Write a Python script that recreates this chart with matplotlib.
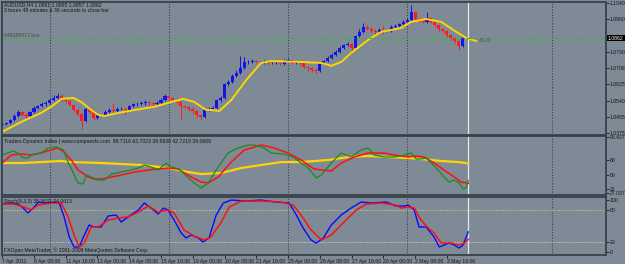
import matplotlib.pyplot as plt

# ---- price data (H4 AUDUSD, bars from 7 Apr 2011 00:00) ----
closes = [1.0421, 1.0426, 1.0441, 1.0462, 1.0482, 1.0467, 1.0462, 1.0482, 1.0502, 1.0513,
          1.0523, 1.0528, 1.0543, 1.0554, 1.0564, 1.0543, 1.0538, 1.0518, 1.0492, 1.0472,
          1.0436, 1.0497, 1.0482, 1.0451, 1.0467, 1.0467, 1.0482, 1.0492, 1.0487, 1.0497,
          1.0497, 1.0492, 1.0513, 1.0523, 1.0523, 1.0528, 1.0533, 1.0528, 1.0523, 1.0528,
          1.0543, 1.0564, 1.0554, 1.0543, 1.0533, 1.0513, 1.0508, 1.0497, 1.0487, 1.0467,
          1.0456, 1.0492, 1.0497, 1.0502, 1.0543, 1.0554, 1.0625, 1.0635, 1.0666, 1.0682,
          1.0707, 1.0738, 1.0738, 1.0743, 1.0738, 1.0738, 1.0738, 1.0733, 1.0733, 1.0733,
          1.0728, 1.0743, 1.0748, 1.0733, 1.0738, 1.0733, 1.0712, 1.0707, 1.0697, 1.0692,
          1.0733, 1.0743, 1.0758, 1.0774, 1.0789, 1.0810, 1.0825, 1.0830, 1.0810, 1.0871,
          1.0892, 1.0917, 1.0907, 1.0897, 1.0892, 1.0902, 1.0900, 1.0897, 1.0917, 1.0922,
          1.0932, 1.0943, 1.0953, 1.0994, 1.0958, 1.0948, 1.0943, 1.0963, 1.0943, 1.0927,
          1.0907, 1.0897, 1.0876, 1.0861, 1.0845, 1.0822, 1.0861, 1.0862]
highs = [1.0428, 1.0433, 1.0448, 1.0470, 1.0490, 1.0488, 1.0475, 1.0488, 1.0510, 1.0520,
         1.0532, 1.0538, 1.0552, 1.0568, 1.0580, 1.0575, 1.0560, 1.0545, 1.0522, 1.0500,
         1.0478, 1.0505, 1.0503, 1.0490, 1.0475, 1.0474, 1.0490, 1.0500, 1.0530, 1.0505,
         1.0505, 1.0502, 1.0520, 1.0530, 1.0532, 1.0540, 1.0545, 1.0540, 1.0535, 1.0538,
         1.0555, 1.0575, 1.0570, 1.0560, 1.0552, 1.0540, 1.0520, 1.0512, 1.0505, 1.0492,
         1.0472, 1.0498, 1.0505, 1.0510, 1.0550, 1.0565, 1.0632, 1.0645, 1.0675, 1.0695,
         1.0770, 1.0765, 1.0750, 1.0752, 1.0748, 1.0745, 1.0746, 1.0744, 1.0740, 1.0742,
         1.0738, 1.0752, 1.0758, 1.0752, 1.0745, 1.0742, 1.0738, 1.0718, 1.0712, 1.0705,
         1.0740, 1.0750, 1.0766, 1.0782, 1.0798, 1.0818, 1.0832, 1.0838, 1.0836, 1.0878,
         1.0905, 1.0935, 1.0928, 1.0915, 1.0905, 1.0910, 1.0922, 1.0906, 1.0925, 1.0930,
         1.0940, 1.0952, 1.0965, 1.1030, 1.0998, 1.0965, 1.0955, 1.0995, 1.0968, 1.0948,
         1.0932, 1.0912, 1.0902, 1.0882, 1.0866, 1.0850, 1.0866, 1.0865]
lows = [1.0410, 1.0415, 1.0420, 1.0436, 1.0455, 1.0460, 1.0440, 1.0455, 1.0476, 1.0495,
        1.0505, 1.0515, 1.0522, 1.0538, 1.0548, 1.0536, 1.0530, 1.0510, 1.0485, 1.0462,
        1.0395, 1.0430, 1.0475, 1.0440, 1.0445, 1.0460, 1.0460, 1.0476, 1.0480, 1.0482,
        1.0490, 1.0465, 1.0488, 1.0505, 1.0515, 1.0518, 1.0520, 1.0520, 1.0515, 1.0518,
        1.0522, 1.0538, 1.0548, 1.0538, 1.0525, 1.0445, 1.0500, 1.0488, 1.0478, 1.0455,
        1.0445, 1.0450, 1.0485, 1.0490, 1.0498, 1.0535, 1.0550, 1.0615, 1.0628, 1.0660,
        1.0675, 1.0700, 1.0730, 1.0735, 1.0732, 1.0731, 1.0730, 1.0726, 1.0725, 1.0726,
        1.0720, 1.0722, 1.0738, 1.0726, 1.0728, 1.0720, 1.0705, 1.0690, 1.0688, 1.0680,
        1.0686, 1.0726, 1.0738, 1.0752, 1.0768, 1.0782, 1.0805, 1.0818, 1.0795, 1.0805,
        1.0865, 1.0886, 1.0900, 1.0890, 1.0870, 1.0885, 1.0880, 1.0890, 1.0890, 1.0910,
        1.0915, 1.0925, 1.0938, 1.0948, 1.0950, 1.0942, 1.0935, 1.0938, 1.0936, 1.0918,
        1.0895, 1.0885, 1.0865, 1.0850, 1.0835, 1.0800, 1.0815, 1.0857]
first_open = 1.0415

# moving average on the price panel (bar, price)
ma_bar = [0, 4.8, 9.8, 12.3, 14.9, 17.9, 19.9, 22.4, 24.2, 25.7, 29.2, 33.3, 38.3, 42.6,
          45.6, 48.4, 51.4, 52.6, 54.7, 57.7, 61.5, 65.2, 67.8, 75.3, 80.4, 82.9, 85.4,
          87.9, 92.2, 95.5, 100.5, 103, 106.8, 110.6, 114.4, 116.9, 119.4]
ma_val = [1.0380, 1.0431, 1.0477, 1.0508, 1.0549, 1.0554, 1.0533, 1.0492, 1.0467, 1.0461,
          1.0477, 1.0492, 1.0508, 1.0533, 1.0549, 1.0533, 1.0492, 1.0492, 1.0487, 1.0543,
          1.0646, 1.0733, 1.0743, 1.0738, 1.0733, 1.0718, 1.0738, 1.0784, 1.0851, 1.0892,
          1.0912, 1.0943, 1.0958, 1.0943, 1.0892, 1.0861, 1.0845]

# Traders Dynamic Index
tdi_green_bar = [0, 2.8, 4, 5.3, 6.5, 7.8, 9.8, 11.6, 13.6, 15.4, 16.6, 17.9, 19.1, 20.4,
                 21.2, 22.4, 24.2, 25.7, 27.5, 30, 32.5, 34.3, 35.8, 37.5, 39.3, 41.3, 42.6,
                 44.6, 46.9, 48.4, 50.1, 51.9, 54.4, 56.9, 59.4, 62, 63.5, 66, 67.8, 71,
                 73.3, 75.3, 77.1, 79.1, 80.4, 82.9, 85.4, 87.9, 90.4, 92.2, 93.7, 96.2,
                 98.7, 101.3, 103, 104.3, 105.5, 106.8, 108.1, 109.8, 111.3, 112.6, 113.9,
                 115.1, 116.1, 116.9, 117.4]
tdi_green = [74.2, 79.2, 76.7, 70.5, 70.5, 75.4, 76.7, 82.9, 84.1, 80.4, 65.5, 51.9, 39.5,
             38.2, 49.4, 46.9, 43.2, 43.2, 50.6, 53.1, 55.6, 58.1, 61.8, 59.3, 55.6, 64.3,
             59.3, 56.8, 45.7, 39.5, 33.3, 39.5, 59.3, 76.7, 82.9, 86.6, 86.6, 82.9, 76.7,
             75.4, 71.7, 64.3, 58.1, 45.7, 49.4, 64.3, 76.7, 71.7, 80.4, 82.9, 74.2, 71.7,
             71.7, 74.2, 76.7, 69.2, 69.2, 70.5, 64.3, 55.6, 46.9, 40.7, 43.2, 39.5, 32.0,
             33.3, 42.7]
tdi_red_bar = [0, 2.3, 4.8, 7.3, 9.8, 12.3, 14.1, 15.6, 17.4, 19.1, 21.7, 23.2, 25, 27.5,
               30, 33.3, 36.8, 39.3, 41.8, 44.3, 47.6, 50.1, 51.9, 54.4, 57.7, 61, 65.2,
               68.5, 72, 75.3, 78.6, 82.9, 85.4, 88.7, 92.2, 96.2, 98.7, 102.3, 103.8,
               106.3, 108.8, 111.3, 113.9, 115.6, 117.4]
tdi_red = [64.3, 74.2, 75.4, 74.2, 76.7, 80.4, 82.9, 77.9, 68, 55.6, 46.9, 44.4, 44.4, 46.9,
           49.4, 53.1, 55.6, 56.8, 58.1, 56.8, 46.9, 40.7, 39.5, 46.9, 65.5, 80.4, 86.6,
           82.9, 76.7, 68, 56.8, 54.4, 64.3, 71.7, 76.7, 76.7, 74.2, 71.7, 73, 71.7, 64.3,
           55.6, 46.9, 40.7, 39.1]
tdi_yellow_bar = [0, 4.8, 9.8, 14.9, 17.4, 25, 35, 41.8, 46.9, 50.1, 55.2, 60.2, 65.2, 70.3,
                  75.3, 82.1, 87.2, 92.2, 97.2, 102.3, 105.5, 110.6, 114.9, 117.4]
tdi_yellow = [64.3, 64.3, 65.5, 66.8, 65.5, 64.3, 61.8, 58.1, 53.1, 50.6, 51.9, 58.1, 61.8,
              65.5, 65.5, 68, 71.7, 73, 71.7, 70.5, 69.2, 66.8, 65.5, 63.7]

# Stochastic
st_main_bar = [0, 2.3, 4, 5.3, 6.5, 7.8, 9.1, 10.6, 13.1, 14.4, 15.6, 16.9, 18.1, 19.4,
               20.7, 21.9, 23.2, 24.9, 26.7, 28.7, 30, 31.7, 34.3, 35.8, 37.5, 39.3, 40.6,
               41.8, 43.3, 45.1, 46.3, 47.6, 49.4, 50.6, 52.1, 53.9, 55.7, 57.7, 61.5, 65.2,
               69, 72.3, 74.1, 75.8, 77.8, 79.1, 80.9, 82.9, 85.4, 87.9, 90.4, 92.9, 96.7,
               99.2, 101.3, 102.3, 103.8, 105, 106.8, 108.8, 110.1, 111.3, 112.6, 113.9,
               115.1, 116.1, 117.4]
st_main = [91.4, 93.3, 91.4, 83.8, 74.3, 83.8, 95.2, 93.3, 95.2, 93.3, 66.7, 28.6, 9.5, 9.5,
           32.4, 51.4, 47.6, 47.6, 68.6, 70.5, 57.1, 66.7, 80, 93.3, 83.8, 72.4, 83.8, 80,
           61, 36.2, 26.7, 32.4, 26.7, 19, 26.7, 70.5, 93.3, 99, 97.1, 99, 95.2, 93.3, 70.5,
           45.7, 22.9, 17.1, 26.7, 51.4, 70.5, 83.8, 95.2, 93.3, 95.2, 87.6, 87.6, 89.5, 80,
           47.6, 47.6, 28.6, 9.5, 13.3, 17.1, 13.3, 7.6, 13.3, 38.4]
st_signal_bar = [0, 3, 5.5, 7.3, 9.1, 12.3, 14.9, 16.6, 18.1, 19.4, 20.7, 22.4, 24.2, 26.7,
                 29.2, 31.7, 34.3, 36.8, 39.3, 41.8, 43.3, 45.8, 48.4, 50.9, 52.6, 55.2,
                 57.2, 60.2, 65.2, 70.3, 73.3, 75.3, 77.8, 80.4, 82.9, 86.6, 89.2, 91.7,
                 95.5, 99.2, 100.5, 102.3, 103.8, 105.5, 107.3, 108.8, 110.6, 113.1, 115.1,
                 116.4, 117.4]
st_signal = [91.4, 91.4, 85.7, 80, 89.5, 93.3, 93.3, 66.7, 32.4, 9.5, 17.1, 47.6, 47.6, 60.9,
             64.8, 66.7, 76.2, 87.6, 76.2, 80, 74.3, 41.9, 30.5, 22.9, 28.6, 57.1, 85.7,
             97.1, 97.1, 95.2, 89.5, 70.5, 41.9, 22.9, 32.4, 60.9, 80, 91.4, 93.3, 89.5,
             83.8, 85.7, 83.8, 60.9, 45.7, 36.2, 17.1, 17.1, 13.3, 17.1, 24.1]

time_labels = ["7 Apr 2011", "8 Apr 08:00", "11 Apr 16:00", "13 Apr 00:00", "14 Apr 08:00",
               "15 Apr 16:00", "19 Apr 00:00", "20 Apr 08:00", "21 Apr 16:00", "25 Apr 00:00",
               "26 Apr 08:00", "27 Apr 16:00", "29 Apr 00:00", "2 May 08:00", "3 May 16:00"]
price_ticks = [1.1040, 1.0960, 1.0790, 1.0706, 1.0625, 1.0540, 1.0455, 1.0375]
week_bars = [12, 42, 72, 102, 138.5]
order_price = 1.0861
last_bar = 117.4

# ---- styling ----
plt.rcParams["font.family"] = ["Liberation Sans", "DejaVu Sans"]
bg = "#7e8a96"
edge = "#37424b"
txt = "#151515"
fs = 3.7
W, H = 625, 264

def box(x0, y0, x1, y1):
    return [x0 / W, 1 - y1 / H, (x1 - x0) / W, (y1 - y0) / H]

fig = plt.figure(figsize=(6.25, 2.64), dpi=100, facecolor=bg)
ax1 = fig.add_axes(box(2, 2, 606, 135))
ax2 = fig.add_axes(box(2, 136, 606, 195), sharex=ax1)
ax3 = fig.add_axes(box(2, 197, 606, 255), sharex=ax1)

for ax in (ax1, ax2, ax3):
    ax.set_facecolor(bg)
    for s in ax.spines.values():
        s.set_color(edge)
        s.set_linewidth(1.3)
    ax.yaxis.tick_right()
    ax.tick_params(axis="y", labelsize=fs, colors=txt, length=2, pad=0.8, width=0.6)
    for b in week_bars:
        ax.axvline(b, color="#36424c", lw=0.8, ls=(0, (1, 1.5)))
    ax.axvline(last_bar, color="#e8e8e8", lw=0.9)

# candles
opens = [first_open] + closes[:-1]
for i, (o, h, l, c) in enumerate(zip(opens, highs, lows, closes)):
    col = "#1414e6" if c >= o else "#ff1c1c"
    ax1.vlines(i, l, h, color=col, lw=0.7)
    ax1.bar(i, max(abs(c - o), 0.00018), bottom=min(o, c), width=0.78, color=col, linewidth=0)
ax1.plot(ma_bar, ma_val, color="#ffd400", lw=1.4)
ax1.axhline(order_price, color="#2fbf2f", lw=0.8, dashes=(6, 2, 1, 2))
ax1.set_ylim(1.0364, 1.1045)
ax1.set_yticks(price_ticks)
ax1.set_yticklabels([f"{p:.4f}" for p in price_ticks])
ax1.tick_params(axis="x", bottom=False, labelbottom=False)

# TDI
ax2.plot(tdi_yellow_bar, tdi_yellow, color="#ffd400", lw=1.6)
ax2.plot(tdi_red_bar, tdi_red, color="#ff1010", lw=1.1)
ax2.plot(tdi_green_bar, tdi_green, color="#1a8c1a", lw=0.9)
ax2.set_ylim(24.6, 97.8)
ax2.set_yticks([96.4276, 68, 50, 32, 27.0373])
ax2.set_yticklabels(["96.4276", "68", "50", "32", "27.0373"])
ax2.tick_params(axis="x", bottom=False, labelbottom=False)

# Stochastic
ax3.axhline(80, color="#d8d860", lw=0.7, ls=(0, (1, 1.5)))
ax3.axhline(20, color="#d8d8b0", lw=0.7, ls=(0, (1, 1.5)))
ax3.plot(st_main_bar, st_main, color="#0a0aff", lw=1.0)
ax3.plot(st_signal_bar, st_signal, color="#ff1010", lw=1.1)
ax3.set_ylim(-5.7, 104.8)
ax3.set_yticks([100, 80, 20, 0])
ax3.set_yticklabels(["100", "80", "20", "0"])
ax3.set_xticks([8 * k for k in range(len(time_labels))])
ax3.set_xticklabels(time_labels, ha="left")
ax3.tick_params(axis="x", labelsize=fs, colors=txt, length=2, pad=0.8, width=0.6)
ax3.set_xlim(-0.05, 152.1)

def label(x, y, s, color=txt, **kw):
    fig.text(x / W, 1 - y / H, s, fontsize=fs, color=color, va="center", **kw)

label(4, 5, "AUDUSD,H4 1.0861 1.0865 1.0857 1.0862")
label(4, 11, "3 hours 48 minutes & 36 seconds to close bar")
label(4, 35, "#48389517 buy", color="#4a4a4a")
label(479, 40, "48.28", color="#4a5560")
label(4, 141, "Traders Dynamic Index | www.compassfx.com  88.7116 63.7023 38.6930 42.7218 39.0669")
label(4, 201, "Stoch(8,3,3) 38.3631 24.0613")
label(4, 250, "FXOpen MetaTrader, \u00a9 2001-2009 MetaQuotes Software Corp.")
fig.text(608 / W, 1 - 38 / H, "1.0862", fontsize=fs, color="white", va="center",
         bbox=dict(facecolor="black", edgecolor="none", pad=0.6))

fig.savefig("out.png", dpi=100, facecolor=bg)
